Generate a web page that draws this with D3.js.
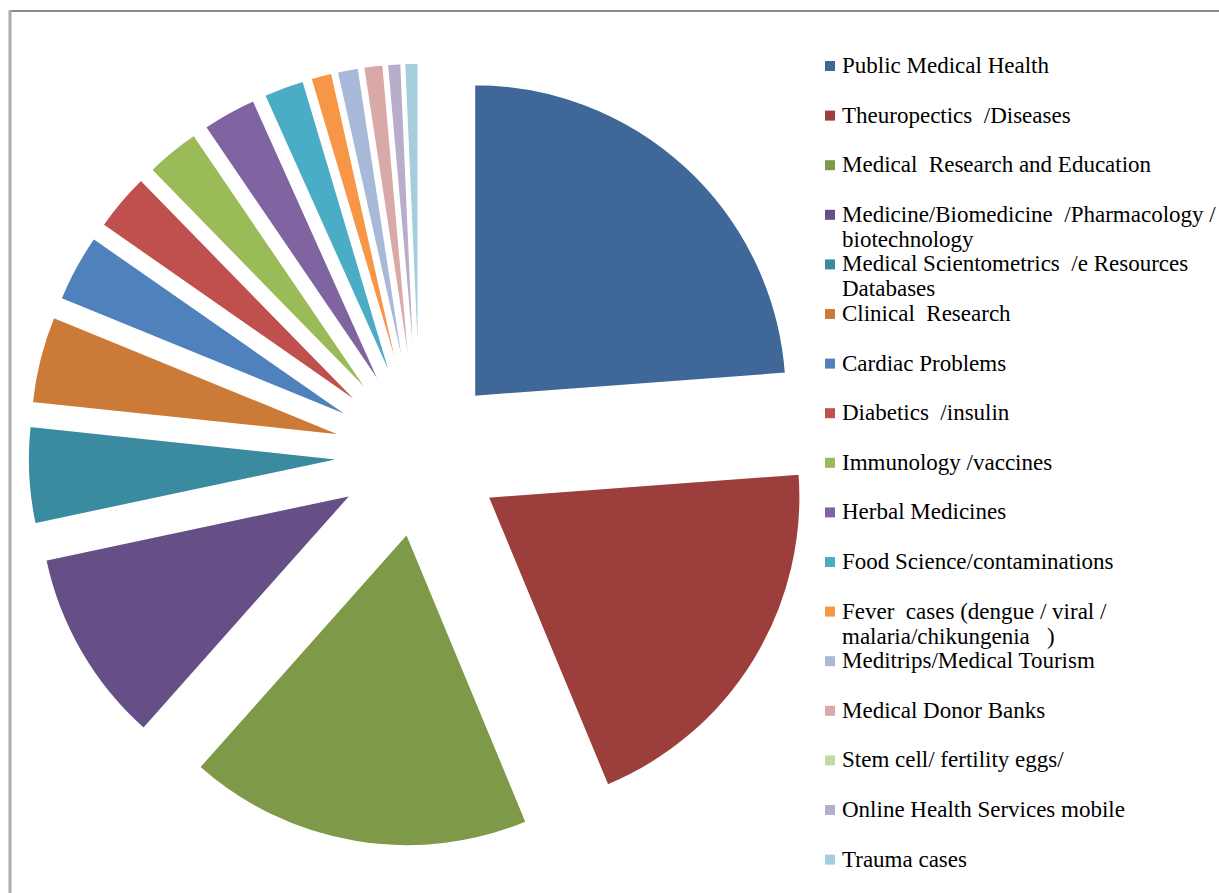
<!DOCTYPE html>
<html>
<head>
<meta charset="utf-8">
<script src="https://cdn.jsdelivr.net/npm/d3@7"></script>
<style>
  html, body { margin: 0; padding: 0; background: #ffffff; }
  svg { display: block; }
</style>
</head>
<body>
<script>
// ---- data ----
const categories = [
  ["Public Medical Health"],
  ["Theuropectics  /Diseases"],
  ["Medical  Research and Education"],
  ["Medicine/Biomedicine  /Pharmacology /", "biotechnology"],
  ["Medical Scientometrics  /e Resources", "Databases"],
  ["Clinical  Research"],
  ["Cardiac Problems"],
  ["Diabetics  /insulin"],
  ["Immunology /vaccines"],
  ["Herbal Medicines"],
  ["Food Science/contaminations"],
  ["Fever  cases (dengue / viral /", "malaria/chikungenia   )"],
  ["Meditrips/Medical Tourism"],
  ["Medical Donor Banks"],
  ["Stem cell/ fertility eggs/"],
  ["Online Health Services mobile"],
  ["Trauma cases"]
];
const values = [23.8, 19.9, 17.8, 10.1, 5.0, 4.5, 3.5, 3.0, 2.8, 2.8, 2.1, 1.1, 1.1, 1.0, 0, 0.7, 0.7];
const colors = [
  "#3F6898", "#9C3F3C", "#7E9A48", "#664F86", "#3A8BA0", "#CB7B37",
  "#4F81BD", "#C0504D", "#9BBB59", "#8064A2", "#4BACC6", "#F79646",
  "#A9B9D9", "#D9A9A8", "#C4D7A4", "#B8AECB", "#A5CEDC"
];

// ---- layout ----
const W = 1219, H = 893;
const cx = 420, cy = 455, R = 312, explode = 80;

const svg = d3.select("body").append("svg")
  .attr("width", W).attr("height", H);

// frame
svg.append("line").attr("x1", 10).attr("y1", 11).attr("x2", W).attr("y2", 11)
  .attr("stroke", "#8c8c8c").attr("stroke-width", 2);
svg.append("line").attr("x1", 10).attr("y1", 10).attr("x2", 10).attr("y2", H)
  .attr("stroke", "#ababab").attr("stroke-width", 3);

const pie = d3.pie().sort(null).value(d => d).startAngle(0).endAngle(2 * Math.PI);
const arcs = pie(values);
const arc = d3.arc().innerRadius(0).outerRadius(R);

const g = svg.append("g").attr("transform", `translate(${cx},${cy})`);
g.selectAll("path.slice")
  .data(arcs)
  .join("path")
  .attr("class", "slice")
  .attr("d", arc)
  .attr("fill", (d, i) => colors[i])
  .attr("stroke", "#ffffff")
  .attr("stroke-width", 1.5)
  .attr("transform", d => {
    const a = (d.startAngle + d.endAngle) / 2;
    return `translate(${explode * Math.sin(a)},${-explode * Math.cos(a)})`;
  });

// legend
const legX = 825, legY0 = 66, legStep = 49.6;
const leg = svg.append("g");
const rows = leg.selectAll("g.row")
  .data(categories)
  .join("g")
  .attr("class", "row")
  .attr("transform", (d, i) => `translate(${legX},${legY0 + i * legStep})`);
rows.append("rect")
  .attr("x", 0).attr("y", -5).attr("width", 10).attr("height", 10)
  .attr("fill", (d, i) => colors[i]);
rows.each(function(lines) {
  const t = d3.select(this).append("text")
    .attr("x", 17).attr("y", 7)
    .style("font-family", "'Liberation Serif', 'Times New Roman', serif")
    .style("font-size", "23px")
    .style("white-space", "pre")
    .attr("fill", "#000");
  lines.forEach((ln, j) => {
    t.append("tspan").attr("x", 17).attr("dy", j === 0 ? 0 : 25).text(ln);
  });
});
</script>
</body>
</html>
